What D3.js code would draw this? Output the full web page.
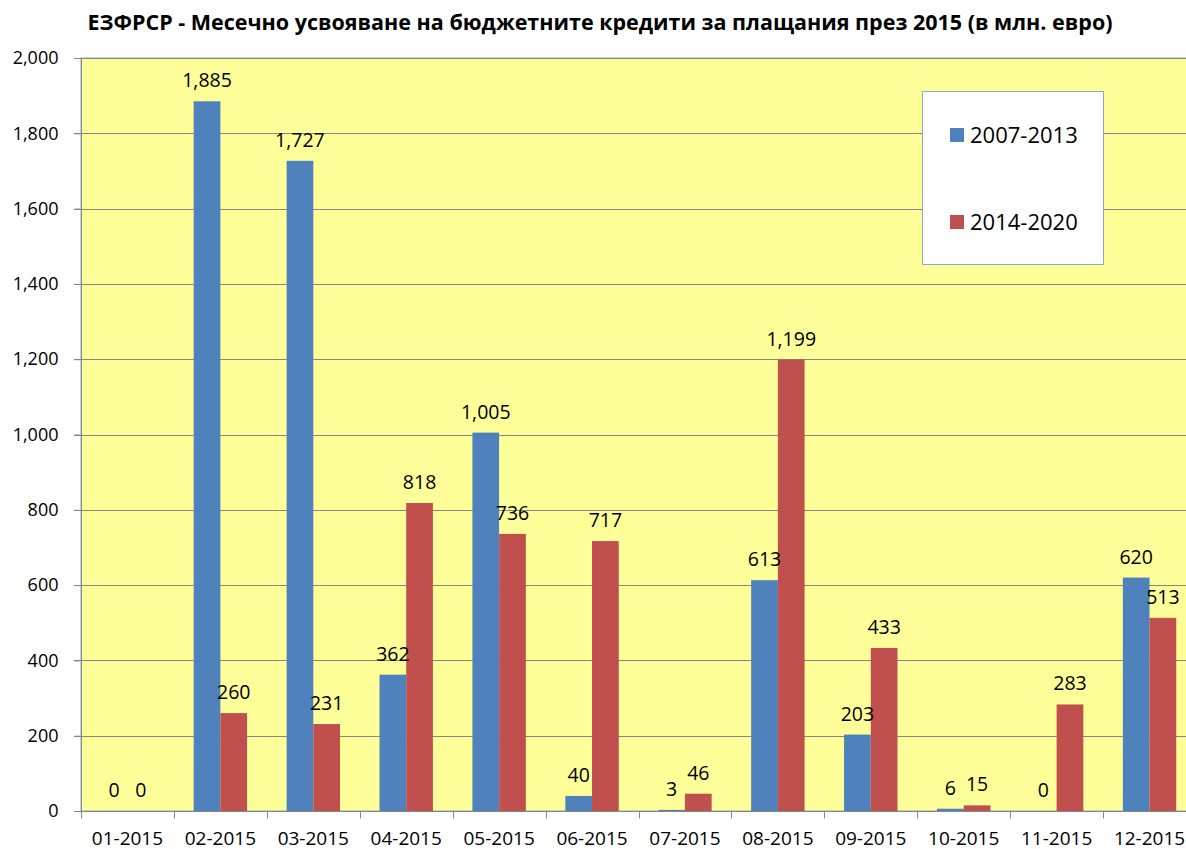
<!DOCTYPE html>
<html>
<head>
<meta charset="utf-8">
<script src="https://cdn.jsdelivr.net/npm/d3@7"></script>
<style>
  body { margin: 0; background: #fff; }
  text { font-family: "Open Sans", sans-serif; fill: #000; }
</style>
</head>
<body>
<script>
// data
const months = ["01-2015","02-2015","03-2015","04-2015","05-2015","06-2015",
                "07-2015","08-2015","09-2015","10-2015","11-2015","12-2015"];
const series = ["2007-2013", "2014-2020"];
const vals0713 = [0, 1885, 1727, 362, 1005, 40, 3, 613, 203, 6, 0, 620];
const vals1420 = [0, 260, 231, 818, 736, 717, 46, 1199, 433, 15, 283, 513];
const yTicks = [0, 200, 400, 600, 800, 1000, 1200, 1400, 1600, 1800, 2000];
const colors = ["#4F81BD", "#C0504D"];
const title = "ЕЗФРСР - Месечно усвояване на бюджетните кредити за плащания през 2015 (в млн. евро)";

const w = 1186, h = 849;
const mLeft = 81, mRight = 1196, mTop = 58, mBottom = 811;

const svg = d3.select("body").append("svg")
    .attr("width", w)
    .attr("height", h);

const x = d3.scaleBand().domain(months).range([mLeft, mRight]).paddingInner(0).paddingOuter(0);
const x1 = d3.scaleBand().domain(series).range([0, x.bandwidth()]).paddingOuter(0.74).paddingInner(0);
const y = d3.scaleLinear().domain([0, 2000]).range([mBottom, mTop]);

// plot background
svg.append("rect")
    .attr("x", mLeft).attr("y", mTop)
    .attr("width", mRight - mLeft).attr("height", mBottom - mTop)
    .attr("fill", "#FFFF99")
    .attr("stroke", "#8EA9D0").attr("stroke-width", 1);

// gridlines
svg.append("g")
  .selectAll("line")
  .data(yTicks.filter(d => d > 0))
  .join("line")
    .attr("x1", mLeft - 7).attr("x2", mRight)
    .attr("y1", d => Math.round(y(d)) + 0.5).attr("y2", d => Math.round(y(d)) + 0.5)
    .attr("stroke", "#868686");

// y axis
const yAxis = d3.axisLeft(y).tickValues(yTicks).tickSize(7).tickPadding(16)
    .tickFormat(d3.format(","));
const gy = svg.append("g")
    .attr("transform", "translate(" + (mLeft + 0.5) + ",0)")
    .call(yAxis);
gy.select(".domain").attr("stroke", "#868686").attr("d", "M0," + mTop + "V" + mBottom);
gy.selectAll(".tick line").attr("stroke", "#868686");
gy.selectAll("text").style("font-size", "18px").style("font-family", "'Open Sans', sans-serif");

// x axis
const gx = svg.append("g")
    .attr("transform", "translate(0," + (mBottom + 0.5) + ")");
gx.append("line").attr("x1", mLeft - 7).attr("x2", mRight).attr("stroke", "#868686");
gx.selectAll(".xt")
  .data(months.concat(["end"]))
  .join("line")
    .attr("class", "xt")
    .attr("x1", (d, i) => Math.round(mLeft + i * x.bandwidth()) + 0.5)
    .attr("x2", (d, i) => Math.round(mLeft + i * x.bandwidth()) + 0.5)
    .attr("y1", 0).attr("y2", 7)
    .attr("stroke", "#868686");
gx.selectAll("text")
  .data(months)
  .join("text")
    .attr("x", d => x(d) + x.bandwidth() / 2)
    .attr("y", 33)
    .attr("text-anchor", "middle")
    .style("font-size", "19px")
    .text(d => d);

// bars
const groups = svg.append("g")
  .selectAll("g")
  .data(months)
  .join("g")
    .attr("transform", d => "translate(" + x(d) + ",0)");

groups.selectAll("rect")
  .data((d, i) => [{s: series[0], v: vals0713[i]}, {s: series[1], v: vals1420[i]}])
  .join("rect")
    .attr("x", d => x1(d.s))
    .attr("width", x1.bandwidth())
    .attr("y", d => y(d.v))
    .attr("height", d => mBottom - y(d.v))
    .attr("fill", (d, i) => colors[i]);

groups.selectAll("text")
  .data((d, i) => [{s: series[0], v: vals0713[i]}, {s: series[1], v: vals1420[i]}])
  .join("text")
    .attr("x", d => x1(d.s) + x1.bandwidth() / 2)
    .attr("y", d => y(d.v) - 14)
    .attr("text-anchor", "middle")
    .style("font-size", "19.5px")
    .text(d => d3.format(",")(d.v));

// title
svg.append("text")
    .attr("x", 600).attr("y", 30)
    .attr("text-anchor", "middle")
    .style("font-size", "21.5px")
    .style("font-weight", "bold")
    .text(title);

// legend
const lg = svg.append("g");
lg.append("rect")
    .attr("x", 922.5).attr("y", 91.5)
    .attr("width", 181).attr("height", 173)
    .attr("fill", "#fff").attr("stroke", "#8EA9D0");
series.forEach((s, i) => {
  lg.append("rect")
    .attr("x", 950).attr("y", 128 + i * 87)
    .attr("width", 14).attr("height", 14)
    .attr("fill", colors[i]);
  lg.append("text")
    .attr("x", 970).attr("y", 143 + i * 87)
    .style("font-size", "22px")
    .text(s);
});
</script>
</body>
</html>
